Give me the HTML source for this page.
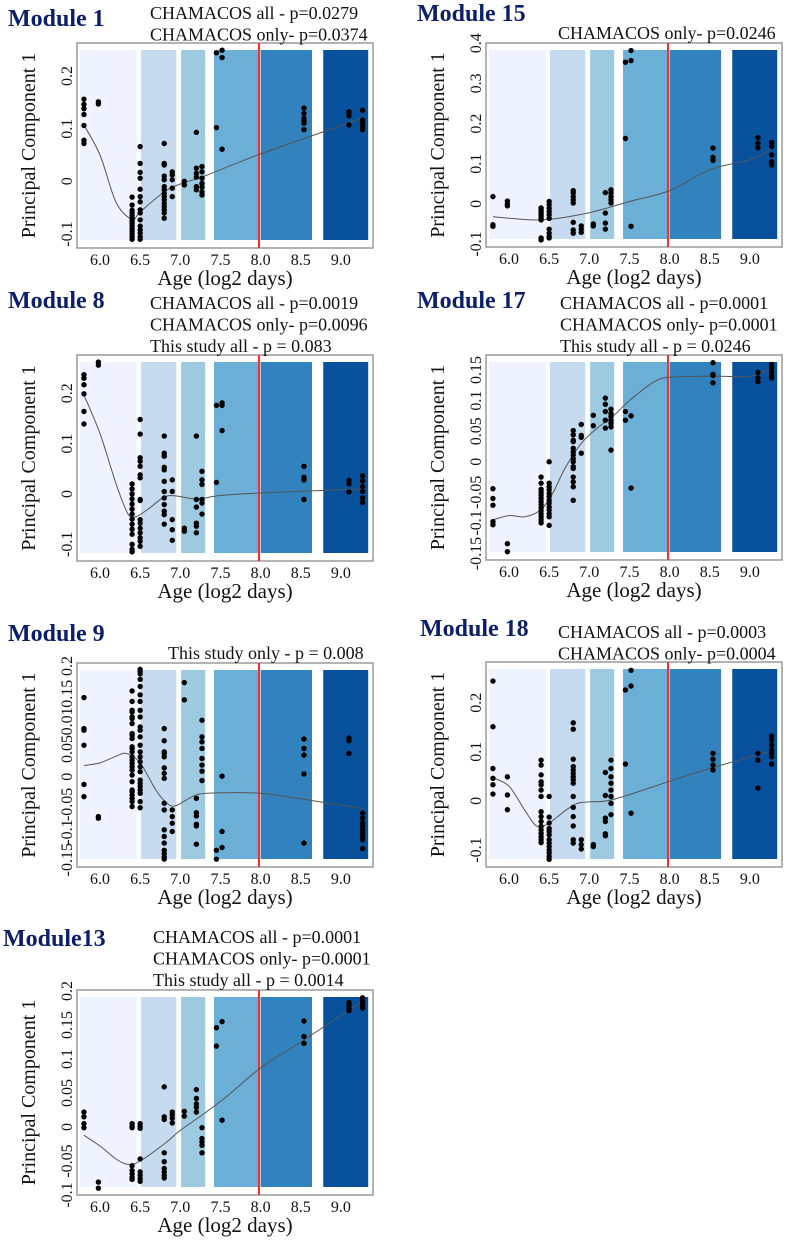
<!DOCTYPE html>
<html><head><meta charset="utf-8"><style>
html,body{margin:0;padding:0;background:#fff;}
svg{display:block;font-family:"Liberation Serif",serif;}
</style></head><body>
<svg id="fig" width="787" height="1241" viewBox="0 0 787 1241" xmlns="http://www.w3.org/2000/svg"></svg>
<script>
// shared age groups (log2 days)
const ageGroups = [5.8, 5.98, 6.4, 6.5, 6.8, 6.9, 7.05, 7.2, 7.27, 7.45, 7.52, 8.54, 9.1, 9.27];
const xTicks = [6.0, 6.5, 7.0, 7.5, 8.0, 8.5, 9.0];
const xTickLabels = ["6.0", "6.5", "7.0", "7.5", "8.0", "8.5", "9.0"];
const bandStarts = [5.75, 6.51, 7.01, 7.42, 8.0, 8.78];
const bandEnds = [6.46, 6.95, 7.31, 7.97, 8.64, 9.34];
const redLineAge = 7.98;

// Module 1
const m1_pc = [[0.156,0.146,0.138,0.127,0.106,0.078,0.072],[0.151,0.147],
 [-0.03,-0.045,-0.055,-0.06,-0.065,-0.07,-0.075,-0.08,-0.085,-0.09,-0.095,-0.1,-0.105,-0.11],
 [0.066,0.034,0.017,0.006,-0.015,-0.029,-0.039,-0.054,-0.06,-0.073,-0.085,-0.092,-0.098,-0.105,-0.11],
 [0.072,0.034,0.031,0.01,0.003,-0.01,-0.016,-0.023,-0.029,-0.035,-0.042,-0.048,-0.054,-0.06,-0.07],
 [0.018,0.012,0.003,-0.013,-0.029],[0,-0.007],[0.093,0.025,0.015,0.008,-0.01,-0.016],
 [0.028,0.018,0.006,-0.004,-0.011,-0.02,-0.026],[0.244,0.102],[0.249,0.235,0.061],
 [0.139,0.129,0.12,0.115,0.11,0.098],[0.132,0.129,0.124,0.107],[0.135,0.116,0.11,0.104,0.098]];
const m1_fitAge = [5.8,6.0,6.2,6.4,6.5,6.8,7.0,7.3,8.0,9.27];
const m1_fitPc = [0.107,0.05,-0.04,-0.072,-0.058,-0.02,-0.005,0.01,0.052,0.12];

// Module 15
const m15_pc = [[0.018,-0.052,-0.056],[0.007,0,-0.005],
 [-0.01,-0.015,-0.02,-0.025,-0.03,-0.035,-0.04,-0.085,-0.09],
 [0.006,-0.002,-0.011,-0.019,-0.027,-0.036,-0.063,-0.073,-0.081,-0.085],
 [0.033,0.027,0.018,0.01,0.002,-0.046,-0.065,-0.073],[-0.055,-0.063,-0.071],[-0.05,-0.055],
 [0.028,-0.023,-0.048,-0.063],[0.035,0.027,0.018,0.01,0.002],[0.353,0.163],[0.382,0.357,-0.056],
 [0.139,0.116,0.108],[0.165,0.151,0.14],[0.153,0.143,0.122,0.105,0.097]];
const m15_fitAge = [5.8,6.4,7.0,7.5,8.0,8.5,9.0,9.27];
const m15_fitPc = [-0.032,-0.04,-0.022,0.006,0.033,0.085,0.11,0.137];

// Module 8
const m8_pc = [[0.237,0.23,0.217,0.199,0.164,0.139],[0.262,0.256],
 [0.02,0.01,0,-0.01,-0.02,-0.03,-0.04,-0.05,-0.06,-0.07,-0.08,-0.1,-0.11,-0.115],
 [0.148,0.119,0.072,0.065,0.055,0.038,0.032,-0.011,-0.013,-0.051,-0.058,-0.068,-0.077,-0.087,-0.094,-0.104],
 [0.115,0.081,0.075,0.053,0.048,0.025,0.005,-0.008,-0.021,-0.034,-0.041,-0.06],
 [0.028,0.005,-0.051,-0.071,-0.092],[-0.068,-0.074],[0.115,-0.011,-0.026,-0.058,-0.064,-0.077],
 [0.045,0.028,0.019,-0.011,-0.018,-0.04],[0.176,0.023],[0.181,0.176,0.126],
 [0.055,0.033,0.028,-0.011],[0.027,0.02,0.004],[0.036,0.026,0.015,0.005,-0.008,-0.017]];
const m8_fitAge = [5.8,6.0,6.2,6.35,6.45,6.6,6.8,6.95,7.2,7.5,8.0,9.27];
const m8_fitPc = [0.197,0.12,0.02,-0.04,-0.045,-0.03,-0.006,-0.004,-0.01,-0.003,0.002,0.01];

// Module 17
const m17_pc = [[-0.044,-0.06,-0.071,-0.098,-0.103],[-0.134,-0.147],
 [-0.025,-0.035,-0.045,-0.05,-0.055,-0.06,-0.065,-0.07,-0.075,-0.08,-0.085,-0.09,-0.095,-0.1],
 [0,-0.035,-0.041,-0.046,-0.052,-0.057,-0.063,-0.068,-0.074,-0.079,-0.085,-0.09,-0.104],
 [0.051,0.044,0.035,0.033,0.022,0.016,0.011,0.005,0,-0.008,-0.011,-0.025,-0.033,-0.041,-0.063],
 [0.061,0.043,0.04,0.014],[0.076,0.059],[0.104,0.094,0.082,0.068,0.055],
 [0.086,0.079,0.074,0.068,0.063,0.057,0.019],[0.082,0.068],[0.075,-0.043],
 [0.162,0.143,0.141,0.129],[0.146,0.137,0.131],[0.159,0.153,0.147,0.142,0.137]];
const m17_fitAge = [5.8,6.0,6.2,6.4,6.55,6.7,6.9,7.1,7.3,7.5,7.8,8.0,8.5,9.0,9.27];
const m17_fitPc = [-0.095,-0.088,-0.09,-0.078,-0.05,-0.01,0.03,0.055,0.075,0.1,0.13,0.138,0.14,0.14,0.153];

// Module 9
const m9_pc = [[0.143,0.087,0.084,0.057,-0.014,-0.036],[-0.072,-0.075],
 [0.155,0.136,0.12,0.117,0.108,0.105,0.096,0.078,0.075,0.069,0.054,0.051,0.045,0.036,0.03,0.024,0.018,0.012,0.003,-0.009,-0.024,-0.027,-0.033,-0.039,-0.045,-0.054],
 [0.194,0.19,0.186,0.176,0.163,0.148,0.136,0.12,0.108,0.09,0.084,0.072,0.057,0.045,0.036,0.027,0.018,0.009,-0.006,-0.012,-0.018,-0.024,-0.03,-0.045,-0.056],
 [0.087,0.065,0.045,0.042,0.036,0.016,0.006,-0.003,-0.048,-0.06,-0.096,-0.108,-0.12,-0.133,-0.139,-0.145,-0.149],
 [-0.06,-0.072,-0.084,-0.099],[0.17,0.139],[-0.039,-0.065,-0.071,-0.086,-0.089,-0.122],
 [0.102,0.072,0.063,0.051,0.033,0.021,0.01,-0.007],[-0.133,-0.149],[0.001,-0.099,-0.128],
 [0.068,0.051,0.039,0.005,-0.12],[0.07,0.065,0.042],
 [-0.066,-0.075,-0.084,-0.09,-0.096,-0.102,-0.108,-0.114,-0.13]];
const m9_fitAge = [5.8,6.0,6.2,6.33,6.5,6.7,6.85,6.95,7.1,7.25,7.6,8.0,8.5,9.27];
const m9_fitPc = [0.02,0.025,0.037,0.042,0.025,-0.025,-0.05,-0.052,-0.04,-0.031,-0.029,-0.03,-0.04,-0.058];

// Module 18
const m18_pc = [[0.244,0.151,0.066,0.046,0.033,0.014],[0.049,0.012,-0.018],
 [0.083,0.073,0.053,0.039,0.033,0.022,0.009,-0.022,-0.032,-0.042,-0.052,-0.059,-0.066,-0.073,-0.079,-0.085],
 [0.009,-0.033,-0.045,-0.056,-0.062,-0.069,-0.079,-0.086,-0.093,-0.1,-0.106,-0.113,-0.119],
 [0.159,0.146,0.085,0.07,0.063,0.056,0.049,0.043,0.036,0.009,-0.013,-0.032,-0.051,-0.079,-0.086],
 [-0.079,-0.089,-0.098],[-0.089,-0.093],[0.058,0.011,-0.035,-0.042,-0.067,-0.071],
 [0.083,0.066,0.049,0.036,0.022,0.009,-0.005,-0.028],[0.226,0.075],[0.266,0.234,-0.025],
 [0.097,0.085,0.073,0.063],[0.097,0.083,0.026],[0.132,0.124,0.114,0.104,0.097,0.09,0.075]];
const m18_fitAge = [5.8,6.0,6.2,6.35,6.5,6.7,6.85,7.0,7.3,8.0,8.5,9.27];
const m18_fitPc = [0.047,0.03,-0.02,-0.052,-0.045,-0.02,-0.005,-0.002,0.003,0.04,0.066,0.102];

// Module 13
const m13_pc = [[0.022,0.015,0.005,-0.001],[-0.081,-0.09],
 [0.005,0.001,-0.001,-0.057,-0.064,-0.069,-0.074,-0.077],
 [0.005,0.001,-0.002,-0.047,-0.066,-0.071,-0.076,-0.08],
 [0.059,0.015,0.011,-0.038,-0.051,-0.061,-0.066,-0.071,-0.075],
 [0.022,0.018,0.013,0.006],[0.023,0.016],[0.055,0.042,0.034,0.029,0.022],
 [-0.001,-0.017,-0.022,-0.027,-0.038],[0.146,0.119],[0.155,0.01],
 [0.156,0.133,0.123],[0.183,0.179,0.174,0.171],[0.19,0.187,0.183,0.179,0.175]];
const m13_fitAge = [5.8,6.0,6.2,6.35,6.5,6.8,7.0,7.3,7.6,8.0,8.5,9.27];
const m13_fitPc = [-0.012,-0.028,-0.047,-0.055,-0.05,-0.025,-0.005,0.02,0.047,0.087,0.125,0.185];

const m1_yTicks = [-0.1,0,0.1,0.2], m1_yLabels = ["-0.1","0","0.1","0.2"];
const m15_yTicks = [-0.1,0,0.1,0.2,0.3,0.4], m15_yLabels = ["-0.1","0","0.1","0.2","0.3","0.4"];
const m8_yTicks = [-0.1,0,0.1,0.2], m8_yLabels = ["-0.1","0","0.1","0.2"];
const m17_yTicks = [-0.15,-0.1,-0.05,0,0.05,0.1,0.15], m17_yLabels = ["-0.15","-0.1","-0.05","0","0.05","0.1","0.15"];
const m9_yTicks = [-0.15,-0.1,-0.05,0,0.05,0.1,0.15,0.2], m9_yLabels = ["-0.15","-0.1","-0.05","0","0.05","0.01","0.15","0.2"];
const m18_yTicks = [-0.1,0,0.1,0.2], m18_yLabels = ["-0.1","0","0.1","0.2"];
const m13_yTicks = [-0.1,-0.05,0,0.05,0.1,0.15,0.2], m13_yLabels = ["-0.1","-0.05","0","0.05","0.1","0.15","0.2"];

const NS = "http://www.w3.org/2000/svg";
const svg = document.getElementById('fig');
const bandColors = ["#eff3ff","#c6dbef","#9ecae1","#6baed6","#3182bd","#08519c"];

function mk(tag, attrs, parent) {
  const e = document.createElementNS(NS, tag);
  for (const k in attrs) e.setAttribute(k, attrs[k]);
  (parent || svg).appendChild(e);
  return e;
}

const panels = [
 {key:"module-1", title:"Module 1", tx:8, ty:26, left:77, top:43, bottom:248, v1:0.2, p1:76, v2:-0.1, p2:234,
  pc:m1_pc, fa:m1_fitAge, fp:m1_fitPc, yt:m1_yTicks, yl:m1_yLabels, nx:150, ny:19, notes:["CHAMACOS all - p=0.0279","CHAMACOS only- p=0.0374"]},
 {key:"module-15", title:"Module 15", tx:417, ty:21, left:486, top:43, bottom:247, v1:0.4, p1:43.3, v2:-0.1, p2:244,
  pc:m15_pc, fa:m15_fitAge, fp:m15_fitPc, yt:m15_yTicks, yl:m15_yLabels, nx:558, ny:39, notes:["CHAMACOS only- p=0.0246"]},
 {key:"module-8", title:"Module 8", tx:8, ty:308, left:77, top:355, bottom:561, v1:0.2, p1:393.3, v2:-0.1, p2:544.3,
  pc:m8_pc, fa:m8_fitAge, fp:m8_fitPc, yt:m8_yTicks, yl:m8_yLabels, nx:150, ny:309, notes:["CHAMACOS all - p=0.0019","CHAMACOS only- p=0.0096","This study all - p = 0.083"]},
 {key:"module-17", title:"Module 17", tx:417, ty:308, left:486, top:355, bottom:560, v1:0.15, p1:370, v2:-0.15, p2:553.5,
  pc:m17_pc, fa:m17_fitAge, fp:m17_fitPc, yt:m17_yTicks, yl:m17_yLabels, nx:560, ny:309, notes:["CHAMACOS all - p=0.0001","CHAMACOS only- p=0.0001","This study all - p = 0.0246"]},
 {key:"module-9", title:"Module 9", tx:8, ty:641, left:77, top:663, bottom:867, v1:0, p1:776.7, v2:-0.15, p2:859.7,
  pc:m9_pc, fa:m9_fitAge, fp:m9_fitPc, yt:m9_yTicks, yl:m9_yLabels, nx:168, ny:659, notes:["This study only - p = 0.008"]},
 {key:"module-18", title:"Module 18", tx:420, ty:636, left:486, top:662, bottom:867, v1:0.2, p1:702.7, v2:-0.1, p2:850,
  pc:m18_pc, fa:m18_fitAge, fp:m18_fitPc, yt:m18_yTicks, yl:m18_yLabels, nx:558, ny:638, notes:["CHAMACOS all - p=0.0003","CHAMACOS only- p=0.0004"]},
 {key:"module-13", title:"Module13", tx:3, ty:946, left:77, top:990, bottom:1195, v1:0.2, p1:991, v2:-0.1, p2:1195,
  pc:m13_pc, fa:m13_fitAge, fp:m13_fitPc, yt:m13_yTicks, yl:m13_yLabels, nx:153, ny:943, notes:["CHAMACOS all - p=0.0001","CHAMACOS only- p=0.0001","This study all - p = 0.0014"]}
];

function catmull(pts) {
  let d = "M" + pts[0][0].toFixed(1) + "," + pts[0][1].toFixed(1);
  for (let i = 0; i < pts.length - 1; i++) {
    const p0 = pts[Math.max(0, i - 1)], p1 = pts[i], p2 = pts[i + 1], p3 = pts[Math.min(pts.length - 1, i + 2)];
    const c1x = p1[0] + (p2[0] - p0[0]) / 6, c1y = p1[1] + (p2[1] - p0[1]) / 6;
    const c2x = p2[0] - (p3[0] - p1[0]) / 6, c2y = p2[1] - (p3[1] - p1[1]) / 6;
    d += " C" + c1x.toFixed(1) + "," + c1y.toFixed(1) + " " + c2x.toFixed(1) + "," + c2y.toFixed(1) + " " + p2[0].toFixed(1) + "," + p2[1].toFixed(1);
  }
  return d;
}

panels.forEach(p => {
  const g = mk('g', {});
  
  
  const right = p.left + 296;
  const x0 = p.left + 23; // age 6.0
  const xs = a => x0 + (a - 6.0) * 80.3;
  const ys = v => p.p1 + (v - p.v1) * (p.p2 - p.p1) / (p.v2 - p.v1);

  bandStarts.forEach((b, i) => {
    const r = mk('rect', {x: xs(b), y: p.top + 7, width: xs(bandEnds[i]) - xs(b), height: (p.bottom - 8) - (p.top + 7), fill: bandColors[i]}, g);
    
    
  });
  const box = mk('rect', {x: p.left, y: p.top, width: right - p.left, height: p.bottom - p.top, fill: "none", stroke: "#9a9a9a", "stroke-width": 1.5}, g);
  
  
  const rl = mk('line', {x1: xs(redLineAge), x2: xs(redLineAge), y1: p.top, y2: p.bottom, stroke: "#ff2a2a", "stroke-width": 2}, g);
  
  
  const fit = mk('path', {d: catmull(p.fa.map((a, i) => [xs(a), ys(p.fp[i])])), fill: "none", stroke: "#555", "stroke-width": 1}, g);
  
  
  p.pc.forEach((grp, gi) => {
    grp.forEach(v => {
      const c = mk('circle', {cx: xs(ageGroups[gi]), cy: ys(v), r: 2.7, fill: "#000"}, g);
      
      
    });
  });
  xTicks.forEach((t, i) => {
    const tx = mk('text', {x: xs(t), y: p.bottom + 17, "text-anchor": "middle", "font-size": 16, fill: "#111"}, g);
    tx.textContent = xTickLabels[i];
    
    
  });
  p.yt.forEach((t, i) => {
    const yy = ys(t);
    const tx = mk('text', {x: 0, y: 0, transform: "translate(" + (p.left - 5) + "," + yy.toFixed(1) + ") rotate(-90)", "text-anchor": "middle", "font-size": 16, fill: "#111"}, g);
    tx.textContent = p.yl[i];
    
    
  });
  const xl = mk('text', {x: (p.left + right) / 2, y: p.bottom + 37, "text-anchor": "middle", "font-size": 21, fill: "#111"}, g);
  xl.textContent = "Age (log2 days)";
  
  
  const yl = mk('text', {x: 0, y: 0, transform: "translate(" + (p.left - 42) + "," + ((p.top + p.bottom) / 2) + ") rotate(-90)", "text-anchor": "middle", "font-size": 20, fill: "#111"}, g);
  yl.textContent = "Principal Component 1";
  
  
  const tt = mk('text', {x: p.tx, y: p.ty, "font-size": 24, "font-weight": "bold", fill: "#0d1f6b"}, g);
  tt.textContent = p.title;
  
  
  p.notes.forEach((n, i) => {
    const nt = mk('text', {x: p.nx, y: p.ny + i * 21.5, "font-size": 18, fill: "#111"}, g);
    nt.textContent = n;
    
    
  });
});
</script>
</body></html>
